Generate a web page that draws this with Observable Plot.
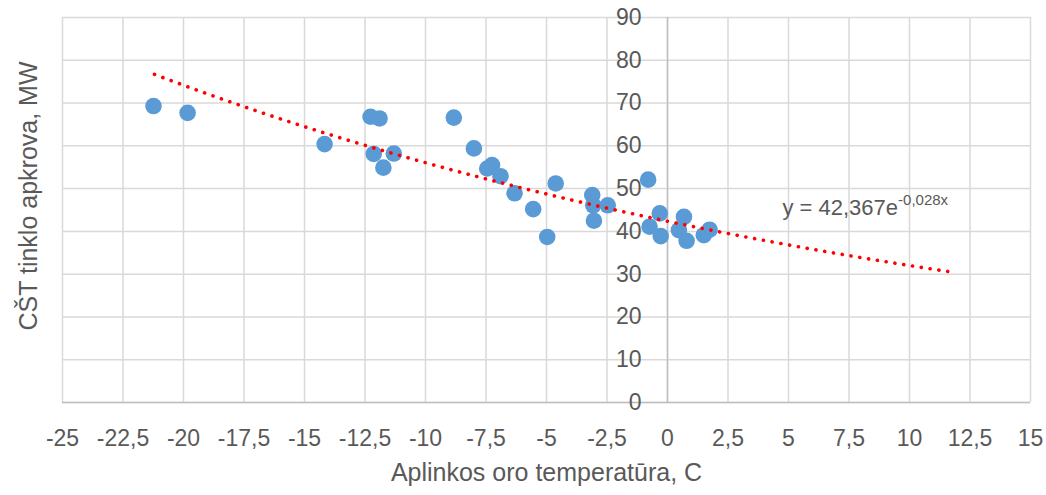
<!DOCTYPE html>
<html>
<head>
<meta charset="utf-8">
<script src="https://cdn.jsdelivr.net/npm/d3@7"></script>
<script src="https://cdn.jsdelivr.net/npm/@observablehq/plot@0.6"></script>
<style>
  html, body { margin: 0; padding: 0; background: #fff; }
</style>
</head>
<body>
<div id="chart"></div>
<script>
// Data
const temperatures = [-21.24, -19.83, -14.17, -12.27, -11.9, -12.14, -11.31, -11.74, -8.83, -8.0,
  -7.45, -7.25, -6.9, -6.32, -5.55, -4.97, -4.62, -3.11, -3.07, -3.04,
  -2.47, -0.8, -0.74, -0.32, -0.28, 0.47, 0.68, 0.79, 1.5, 1.74];
const loads = [69.3, 67.7, 60.4, 66.8, 66.4, 58.1, 58.2, 54.9, 66.6, 59.4,
  54.7, 55.5, 52.9, 48.9, 45.2, 38.7, 51.2, 48.5, 46.1, 42.5,
  46.1, 52.1, 41.1, 44.2, 38.9, 40.3, 43.4, 37.8, 39.1, 40.4];
const xTicks = [-25, -22.5, -20, -17.5, -15, -12.5, -10, -7.5, -5, -2.5, 0, 2.5, 5, 7.5, 10, 12.5, 15];
const yTicks = [0, 10, 20, 30, 40, 50, 60, 70, 80, 90];
const trendCoefA = 42.367;
const trendCoefB = -0.028;
const trendFrom = -21.2;
const trendTo = 11.7;
const eqBase = "y = 42,367e";
const eqExp = "-0,028x";
const xTitle = "Aplinkos oro temperatūra, C";
const yTitle = "CŠT tinklo apkrova, MW";

const points = temperatures.map((t, i) => ({t, load: loads[i]}));
const trend = d3.range(0, 101).map(i => {
  const t = trendFrom + (trendTo - trendFrom) * i / 100;
  return {t, load: trendCoefA * Math.exp(trendCoefB * t)};
});
const fmt = d => String(d).replace(".", ",");

const chart = Plot.plot({
  width: 1046,
  height: 495,
  marginLeft: 62,
  marginRight: 16,
  marginTop: 17,
  marginBottom: 93,
  style: {fontFamily: "'Liberation Sans', Arial, sans-serif", fontSize: "23px", color: "#595959", background: "#fff"},
  x: {domain: [-25, 15], axis: null},
  y: {domain: [0, 90], axis: null},
  marks: [
    Plot.gridX(xTicks, {stroke: "#d9d9d9", strokeOpacity: 1, strokeWidth: 1.5}),
    Plot.gridY(yTicks, {stroke: "#d9d9d9", strokeOpacity: 1, strokeWidth: 1.5}),
    Plot.ruleX([0], {stroke: "#bfbfbf", strokeWidth: 1.5}),
    Plot.ruleY([0], {stroke: "#bfbfbf", strokeWidth: 1.5}),
    Plot.dot(points, {x: "t", y: "load", r: 8.3, fill: "#5b9bd5", stroke: "none"}),
    Plot.line(trend, {x: "t", y: "load", stroke: "#ff0000", strokeWidth: 3.6,
      strokeDasharray: "0.1 8.8", strokeLinecap: "round"}),
    Plot.text(xTicks, {x: d => d, text: fmt, frameAnchor: "bottom", lineAnchor: "middle", dy: 36, fill: "#595959", fontSize: 23}),
    Plot.text(yTicks, {x: d => 0, y: d => d, text: fmt, textAnchor: "end", dx: -26, fill: "#595959", fontSize: 23}),
    Plot.text([eqBase], {x: 4.75, y: 45.4, textAnchor: "start", fill: "#595959", fontSize: 22}),
    Plot.text([xTitle], {frameAnchor: "bottom", textAnchor: "middle", lineAnchor: "middle", dy: 70, fill: "#595959", fontSize: 25}),
    Plot.text([yTitle], {frameAnchor: "left", textAnchor: "middle", lineAnchor: "middle", rotate: -90, dx: -34, dy: -14, fill: "#595959", fontSize: 25})
  ]
});

// superscript exponent on the trendline equation
d3.select(chart).selectAll("text").filter(function() { return this.textContent === eqBase; })
  .append("tspan").attr("font-size", 15).attr("dy", "-0.7em").text(eqExp);

document.getElementById("chart").appendChild(chart);
</script>
</body>
</html>
